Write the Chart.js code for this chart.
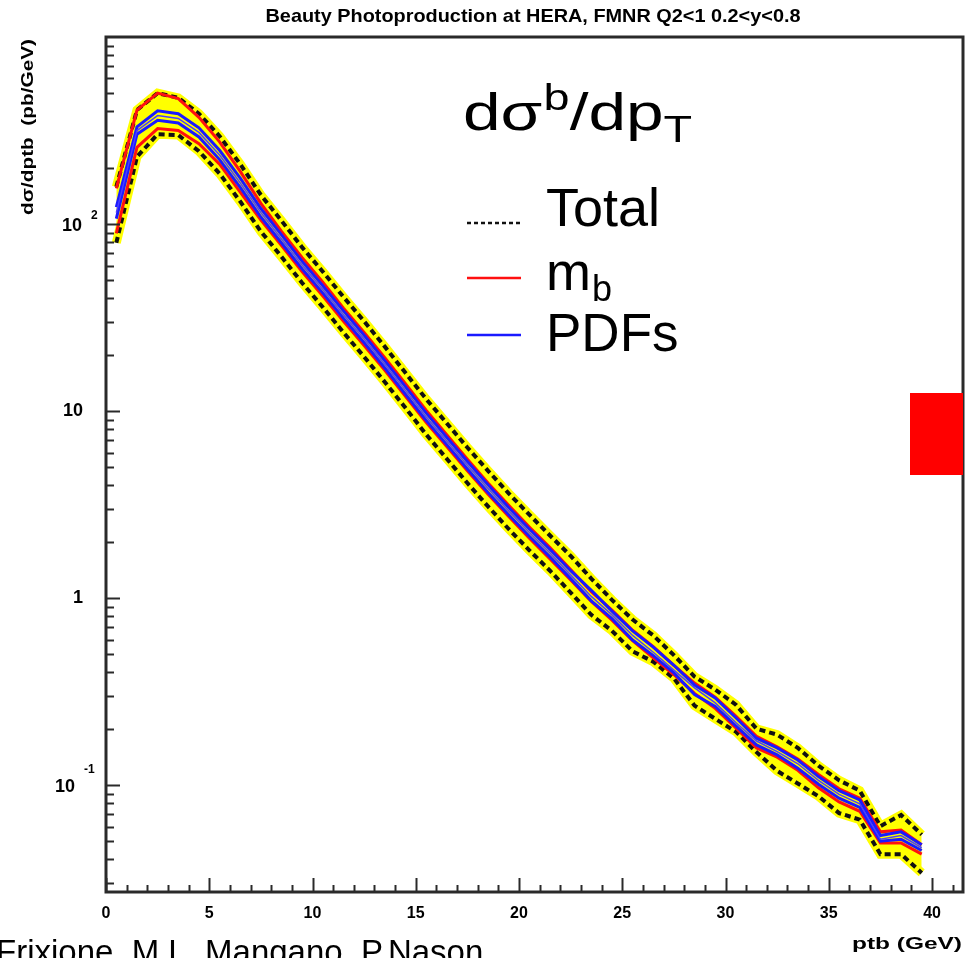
<!DOCTYPE html>
<html>
<head>
<meta charset="utf-8">
<script src="https://cdn.jsdelivr.net/npm/chart.js@4.4.0/dist/chart.umd.min.js"></script>
<style>
  html, body { margin: 0; padding: 0; background: #ffffff; }
  #wrap { width: 965px; height: 958px; position: relative; }
</style>
</head>
<body>
<div id="wrap"><canvas id="xsecChart" width="965" height="958"></canvas></div>
<script>
// FMNR beauty photoproduction, d(sigma)/d(pt) in pb/GeV

const ptBins = [0.5, 1.5, 2.5, 3.5, 4.5, 5.5, 6.5, 7.5, 8.5, 9.5,
    10.5, 11.5, 12.5, 13.5, 14.5, 15.5, 16.5, 17.5, 18.5, 19.5,
    20.5, 21.5, 22.5, 23.5, 24.5, 25.5, 26.5, 27.5, 28.5, 29.5,
    30.5, 31.5, 32.5, 33.5, 34.5, 35.5, 36.5, 37.5, 38.5, 39.5];

const central = [115, 316, 380, 367, 309, 234, 166, 115, 83.2, 60.3,
    44.7, 32.7, 24.3, 17.8, 12.9, 9.33, 6.92, 5.13, 3.85, 2.92,
    2.24, 1.74, 1.33, 1.02, 0.813, 0.631, 0.513, 0.412, 0.331, 0.275,
    0.216, 0.172, 0.151, 0.130, 0.106, 0.0891, 0.0794, 0.0513, 0.0537, 0.0462];

const totalUp = [158, 407, 501, 473, 389, 295, 209, 143, 104, 75.0,
    55.6, 40.7, 30.2, 22.1, 16.0, 11.6, 8.61, 6.38, 4.79, 3.63,
    2.79, 2.16, 1.68, 1.27, 0.977, 0.767, 0.631, 0.495, 0.380, 0.324,
    0.269, 0.200, 0.186, 0.158, 0.127, 0.106, 0.0933, 0.0603, 0.0692, 0.0543];

const totalLo = [79.4, 229, 302, 299, 245, 186, 132, 91.2, 66.8, 48.4,
    35.9, 26.3, 19.5, 14.3, 10.4, 7.50, 5.56, 4.12, 3.09, 2.34,
    1.80, 1.40, 1.07, 0.813, 0.668, 0.519, 0.457, 0.372, 0.266, 0.226,
    0.193, 0.150, 0.119, 0.102, 0.0871, 0.0708, 0.0653, 0.0427, 0.0427, 0.0339];

const mbUp = [155, 407, 501, 468, 372, 275, 191, 129, 91.2, 66.1,
    48.8, 35.5, 26.3, 19.3, 14.0, 10.1, 7.46, 5.52, 4.12, 3.13,
    2.40, 1.86, 1.42, 1.08, 0.861, 0.673, 0.550, 0.437, 0.351, 0.295,
    0.234, 0.182, 0.160, 0.138, 0.114, 0.0955, 0.0851, 0.0562, 0.0575, 0.0479];

const mbLo = [89.1, 257, 324, 316, 269, 209, 148, 105, 76.7, 55.6,
    41.2, 30.2, 22.4, 16.5, 12.0, 8.71, 6.46, 4.79, 3.59, 2.73,
    2.09, 1.62, 1.25, 0.959, 0.762, 0.592, 0.479, 0.389, 0.309, 0.257,
    0.202, 0.158, 0.141, 0.120, 0.0966, 0.0813, 0.0724, 0.0490, 0.0490, 0.0427];

const pdfUp = [123, 331, 403, 389, 327, 248, 176, 121, 87.5, 63.1,
    46.8, 34.3, 25.4, 18.6, 13.5, 9.77, 7.24, 5.37, 4.03, 3.05,
    2.34, 1.82, 1.40, 1.10, 0.851, 0.668, 0.547, 0.437, 0.343, 0.292,
    0.229, 0.178, 0.158, 0.136, 0.111, 0.0933, 0.0832, 0.0537, 0.0562, 0.0479];

const pdfLo = [107, 302, 359, 347, 292, 221, 157, 109, 79.1, 57.5,
    42.7, 31.3, 23.2, 17.0, 12.3, 8.91, 6.61, 4.90, 3.67, 2.79,
    2.14, 1.66, 1.27, 0.966, 0.776, 0.596, 0.492, 0.398, 0.305, 0.263,
    0.207, 0.164, 0.145, 0.123, 0.101, 0.0851, 0.0759, 0.0501, 0.0513, 0.0447];

const yTickDecades = [-1, 0, 1, 2];
const xLabelTicks = [0, 5, 10, 15, 20, 25, 30, 35, 40];

const FONT = "'Liberation Sans', Arial, Helvetica, sans-serif";

function toXY(vals) {
    return ptBins.map((x, i) => ({ x: x, y: vals[i] }));
}

function lineSet(label, vals, color, width, dash) {
    return {
        label: label,
        data: toXY(vals),
        borderColor: color,
        borderWidth: width,
        borderDash: dash || [],
        pointRadius: 0,
        fill: false,
        tension: 0
    };
}

// first dataset is drawn on top, so the yellow band goes last
const datasets = [
    lineSet('central', central, '#4a3cff', 1.5),
    lineSet('PDFs up', pdfUp, '#1a1aff', 3),
    lineSet('PDFs down', pdfLo, '#1a1aff', 3),
    lineSet('mb up', mbUp, '#ff1010', 3),
    lineSet('mb down', mbLo, '#ff1010', 3),
    lineSet('Total up', totalUp, '#111111', 4, [6, 4]),
    lineSet('Total down', totalLo, '#111111', 4, [6, 4]),
    Object.assign(lineSet('band up', totalUp, '#ffff00', 9), { fill: '+1', backgroundColor: '#ffff00' }),
    lineSet('band down', totalLo, '#ffff00', 9)
];

// draw text squeezed/stretched to a given width
function fitText(ctx, text, x, y, width, align) {
    const w = ctx.measureText(text).width;
    ctx.save();
    ctx.translate(x, y);
    ctx.scale(width / w, 1);
    ctx.textAlign = align;
    ctx.fillText(text, 0, 0);
    ctx.restore();
}

// frame, inside ticks, labels, legend and the annotations
const decorPlugin = {
    id: 'decor',
    afterDraw(chart) {
        const ctx = chart.ctx;
        const area = chart.chartArea;
        const xs = chart.scales.x;
        const ys = chart.scales.y;
        ctx.save();

        // minor / major ticks on the y axis
        ctx.strokeStyle = '#2a2a2a';
        ctx.lineWidth = 2;
        for (let d = -2; d <= 2; d++) {
            for (let k = 1; k <= 9; k++) {
                const v = k * Math.pow(10, d);
                if (v < ys.min || v > ys.max) continue;
                const py = Math.round(ys.getPixelForValue(v)) + 0.5;
                const len = k === 1 ? 14 : 8;
                ctx.beginPath();
                ctx.moveTo(area.left, py);
                ctx.lineTo(area.left + len, py);
                ctx.stroke();
            }
        }
        // ticks on the x axis
        for (let i = 0; i <= 41; i++) {
            const px = Math.round(xs.getPixelForValue(i)) + 0.5;
            const len = i % 5 === 0 ? 14 : 7;
            ctx.beginPath();
            ctx.moveTo(px, area.bottom);
            ctx.lineTo(px, area.bottom - len);
            ctx.stroke();
        }

        // frame
        ctx.lineWidth = 3;
        ctx.strokeRect(area.left, area.top, area.right - area.left, area.bottom - area.top);

        // y tick labels with exponents
        ctx.fillStyle = '#000';
        ctx.textBaseline = 'middle';
        yTickDecades.forEach(d => {
            const py = ys.getPixelForValue(Math.pow(10, d));
            ctx.font = 'bold 18px ' + FONT;
            ctx.textAlign = 'right';
            if (d === 0) {
                ctx.fillText('1', 83, py);
            } else if (d === 1) {
                ctx.fillText('10', 83, py);
            } else if (d === 2) {
                ctx.fillText('10', 82, py + 2);
                ctx.font = 'bold 12px ' + FONT;
                ctx.textAlign = 'left';
                ctx.fillText('2', 91, py - 8);
            } else {
                ctx.fillText('10', 75, py + 2);
                ctx.font = 'bold 12px ' + FONT;
                ctx.textAlign = 'left';
                ctx.fillText('-1', 84, py - 15);
            }
        });

        // y axis title, rotated, flush with the top of the frame
        ctx.save();
        ctx.translate(33, 39);
        ctx.rotate(-Math.PI / 2);
        ctx.font = 'bold 17px ' + FONT;
        ctx.textBaseline = 'alphabetic';
        fitText(ctx, 'd\u03c3/dptb  (pb/GeV)', 0, 0, 176, 'right');
        ctx.restore();

        // x axis title
        ctx.font = 'bold 17px ' + FONT;
        ctx.textBaseline = 'alphabetic';
        fitText(ctx, 'ptb (GeV)', 962, 949, 110, 'right');

        // title, condensed to the width of the original
        ctx.font = 'bold 19px ' + FONT;
        fitText(ctx, 'Beauty Photoproduction at HERA, FMNR Q2<1 0.2<y<0.8', 533, 22, 535, 'center');

        // legend heading d sigma^b / d p_T, widened as in the original
        ctx.save();
        ctx.translate(463, 0);
        ctx.scale(1.3, 1);
        ctx.textAlign = 'left';
        ctx.font = '52px ' + FONT;
        let lx = 0;
        ctx.fillText('d\u03c3', lx, 130);
        lx += ctx.measureText('d\u03c3').width;
        ctx.font = '36px ' + FONT;
        ctx.fillText('b', lx + 1, 110);
        lx += ctx.measureText('b').width + 1;
        ctx.font = '52px ' + FONT;
        ctx.fillText('/dp', lx, 130);
        lx += ctx.measureText('/dp').width;
        ctx.font = '36px ' + FONT;
        ctx.fillText('T', lx, 142);
        ctx.restore();

        // legend entries
        ctx.textAlign = 'left';
        ctx.lineWidth = 2.5;
        ctx.strokeStyle = '#111';
        ctx.setLineDash([4, 3]);
        ctx.beginPath(); ctx.moveTo(467, 223); ctx.lineTo(521, 223); ctx.stroke();
        ctx.setLineDash([]);
        ctx.strokeStyle = '#ff1010';
        ctx.beginPath(); ctx.moveTo(467, 278); ctx.lineTo(521, 278); ctx.stroke();
        ctx.strokeStyle = '#1a1aff';
        ctx.beginPath(); ctx.moveTo(467, 335); ctx.lineTo(521, 335); ctx.stroke();

        ctx.font = '54px ' + FONT;
        ctx.fillText('Total', 546, 226);
        ctx.fillText('m', 546, 290);
        const mw = ctx.measureText('m').width;
        ctx.font = '36px ' + FONT;
        ctx.fillText('b', 546 + mw + 1, 301);
        ctx.font = '53px ' + FONT;
        ctx.fillText('PDFs', 546, 351);

        // red box at the right edge
        ctx.fillStyle = '#ff0000';
        ctx.fillRect(910, 393, area.right - 910, 82);

        // author line, cut at the page edge
        ctx.fillStyle = '#000';
        ctx.font = '33px ' + FONT;
        ctx.fillText('Frixione, M.L. Mangano, P.Nason,', -4, 963);

        ctx.restore();
    }
};

new Chart(document.getElementById('xsecChart'), {
    type: 'line',
    data: { datasets: datasets },
    options: {
        responsive: false,
        animation: false,
        events: [],
        layout: { padding: { top: 37, left: 0, right: 2, bottom: 0 } },
        plugins: {
            legend: { display: false },
            title: { display: false },
            tooltip: { enabled: false }
        },
        scales: {
            x: {
                type: 'linear',
                min: 0,
                max: 41.5,
                grid: { display: false, drawTicks: false },
                border: { display: false },
                ticks: {
                    stepSize: 5,
                    includeBounds: false,
                    padding: 12,
                    maxRotation: 0,
                    color: '#000',
                    font: { family: FONT, size: 16, weight: 'bold' },
                    callback: v => (xLabelTicks.includes(v) ? String(v) : '')
                },
                afterFit(scale) { scale.height = 66; }
            },
            y: {
                type: 'logarithmic',
                min: 0.0268,
                max: 1000,
                grid: { display: false, drawTicks: false },
                border: { display: false },
                ticks: { display: false },
                afterFit(scale) { scale.width = 106; }
            }
        }
    },
    plugins: [decorPlugin]
});
</script>
</body>
</html>
